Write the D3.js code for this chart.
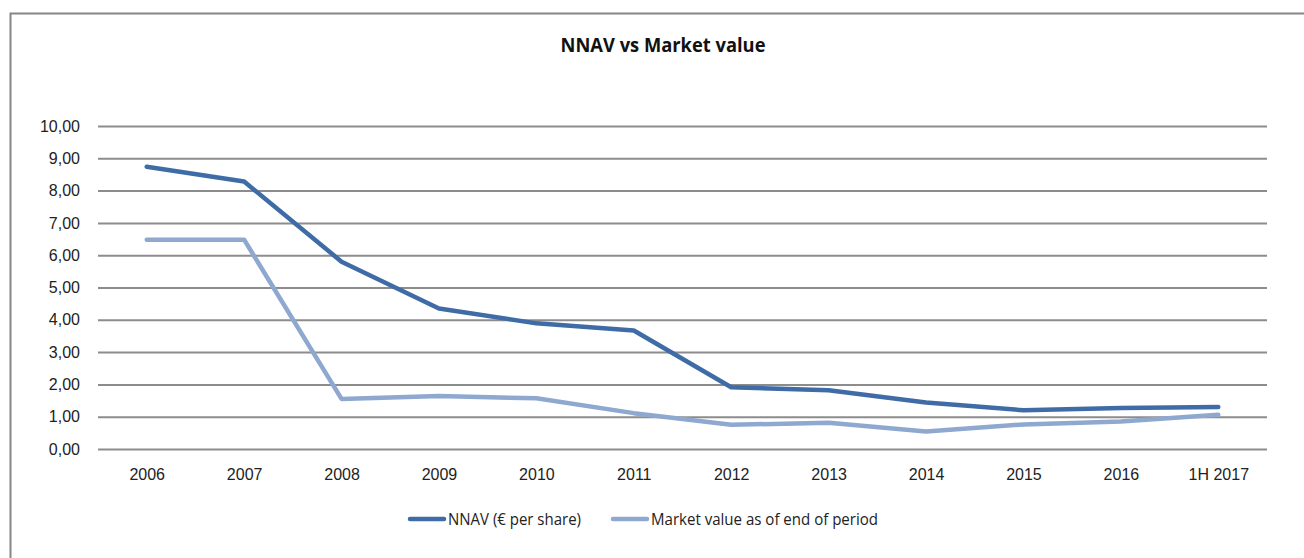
<!DOCTYPE html>
<html>
<head>
<meta charset="utf-8">
<script src="https://cdn.jsdelivr.net/npm/d3@7"></script>
<style>
  html, body { margin: 0; padding: 0; background: #fff; }
  svg { display: block; font-family: 'Open Sans', sans-serif; }
</style>
</head>
<body>
<div id="chart"></div>
<script>
const categories = ['2006', '2007', '2008', '2009', '2010', '2011', '2012', '2013', '2014', '2015', '2016', '1H 2017']
const nnav = [8.74, 8.28, 5.80, 4.35, 3.89, 3.67, 1.91, 1.82, 1.44, 1.20, 1.27, 1.30]
const marketValue = [6.48, 6.48, 1.55, 1.64, 1.57, 1.11, 0.75, 0.81, 0.54, 0.76, 0.85, 1.06]
const yTicks = [0, 1, 2, 3, 4, 5, 6, 7, 8, 9, 10]

const series = [
  { name: 'NNAV (€ per share)', values: nnav, color: '#3f6ca6' },
  { name: 'Market value as of end of period', values: marketValue, color: '#8ea8d0' },
]

const width = 1304
const height = 558
const plot = { left: 98, right: 1267, top: 126, bottom: 449 }

const svg = d3.select('#chart')
  .append('svg')
  .attr('width', width)
  .attr('height', height)

// Outer frame (left + top only visible)
svg.append('path')
  .attr('d', `M10.5,${height} V13.5 H${width}`)
  .attr('fill', 'none')
  .attr('stroke', '#868686')
  .attr('stroke-width', 2)

svg.append('text')
  .attr('x', 663)
  .attr('y', 52)
  .attr('text-anchor', 'middle')
  .attr('font-size', '19px')
  .attr('font-weight', 'bold')
  .attr('fill', '#111')
  .attr('textLength', 205)
  .attr('lengthAdjust', 'spacingAndGlyphs')
  .text('NNAV vs Market value')

const x = d3.scalePoint()
  .domain(categories)
  .range([plot.left, plot.right])
  .padding(0.5)

const y = d3.scaleLinear()
  .domain([0, 10])
  .range([plot.bottom, plot.top])

// Gridlines + y labels
const yAxis = svg.append('g')
  .attr('transform', `translate(${plot.left},0)`)
  .call(d3.axisLeft(y)
    .tickValues(yTicks)
    .tickSize(-(plot.right - plot.left))
    .tickPadding(18)
    .tickFormat(d => d3.format('.2f')(d).replace('.', ',')))
yAxis.select('.domain').remove()
yAxis.selectAll('.tick line')
  .attr('stroke', '#8c8c8c')
  .attr('stroke-width', 2)
yAxis.selectAll('.tick text')
  .attr('font-size', '16px')
  .attr('fill', '#222')

// x labels
const xAxis = svg.append('g')
  .attr('transform', `translate(0,${plot.bottom})`)
  .call(d3.axisBottom(x).tickSize(0).tickPadding(20))
xAxis.select('.domain').remove()
xAxis.selectAll('.tick text')
  .attr('font-size', '16px')
  .attr('fill', '#222')

// Lines
const line = d3.line()
  .x((d, i) => x(categories[i]))
  .y(d => y(d))

svg.append('g')
  .selectAll('path')
  .data(series.slice().reverse())
  .join('path')
  .attr('d', d => line(d.values))
  .attr('fill', 'none')
  .attr('stroke', d => d.color)
  .attr('stroke-width', 4.5)
  .attr('stroke-linejoin', 'round')
  .attr('stroke-linecap', 'round')

// Legend
const legendItems = [
  { x: 410, w: 133, ...series[0] },
  { x: 613, w: 227, ...series[1] },
]
const legend = svg.append('g')
  .selectAll('g')
  .data(legendItems)
  .join('g')
  .attr('transform', d => `translate(${d.x},519)`)
legend.append('line')
  .attr('x1', 0)
  .attr('x2', 34)
  .attr('stroke', d => d.color)
  .attr('stroke-width', 4.5)
  .attr('stroke-linecap', 'round')
legend.append('text')
  .attr('x', 38)
  .attr('dy', '0.35em')
  .attr('font-size', '16px')
  .attr('fill', '#222')
  .attr('textLength', d => d.w)
  .attr('lengthAdjust', 'spacingAndGlyphs')
  .text(d => d.name)
</script>
</body>
</html>
